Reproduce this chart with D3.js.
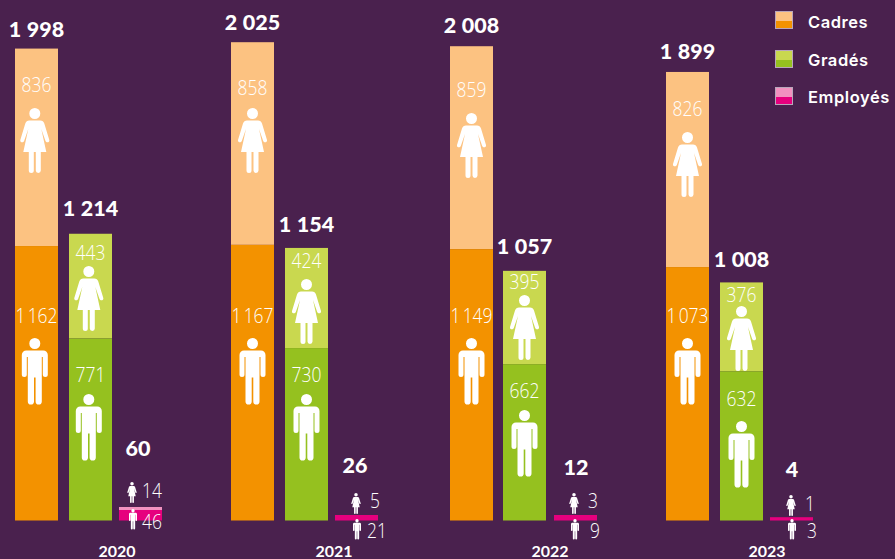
<!DOCTYPE html>
<html><head><meta charset="utf-8">
<script src="https://cdn.jsdelivr.net/npm/d3@7"></script>
<style>html,body{margin:0;padding:0;background:#4a214e;overflow:hidden}svg{display:block}</style>
</head><body><svg id="c" width="895" height="559"></svg>
<script>
const years = ["2020","2021","2022","2023"];
const cadresFemmes = [836,858,859,826];
const cadresHommes = [1162,1167,1149,1073];
const gradesFemmes = [443,424,395,376];
const gradesHommes = [771,730,662,632];
const employesFemmes = [14,5,3,1];
const employesHommes = [46,21,9,3];
const legendLabels = ["Cadres","Gradés","Employés"];

const colors = {
  Cadres:["#fcc281","#f39200"],
  "Gradés":["#c9d84f","#95c11f"],
  "Employés":["#f291c0","#e6007e"]
};
// layout tables (pixels), kept apart from the data
const layout = {
  Cadres:{bx:[15,231,450,666], totGap:[12,12,13,13], iconF:[108,108,113,132], iconH:[338,338,338,338], labF:[92,95,97,116], labH:[323,323,323,323]},
  "Gradés":{bx:[69,285,503,720], totGap:[18,16,17,15], iconF:[266,279,295,306], iconH:[394,394,410,421], labF:[259.5,268,289,302], labH:[382,382,398,406]}
};
const pinkLayout = {
  bx:[119,335,554,770], totDx:[19,20,22,22], totY:[456,473,475,477],
  fDx:[13,21,20,21], hDx:[14,22,21,22], fTop:[482,493,493,495], hTop:[509,519,519,519],
  fLabDx:[23,35,34,35], hLabDx:[23,32,36,37], fLabY:[498,508,508,511], hLabY:[529,538,538,538]
};
const yearCx = [117,334,550,767];
const iconShift = [-1.7,0,0,0];
const legendY = [11.5,50.5,87.5];

const svg = d3.select("#c");
const W=43;
const y = d3.scaleLinear().domain([0,2000]).range([520.5,48.1]);
// the smallest bars are drawn with a readable minimum height
const yPink = d3.scaleLinear().domain([0,4,12,26,46,60]).range([520.5,517.2,515,515,510,507]);
const fmt = v => { const s=String(v); return s.length>3 ? s.slice(0,-3)+"\u202f"+s.slice(-3) : s; };

const FEM = "M14.5 0a5.5 5.5 0 1 1 0 11a5.5 5.5 0 1 1 0-11ZM9 12.500H20q3 0 4 3L29 32c.6 2.500-3 3.200-3.800 1L21 21L26 44H20.500V62.500a2.500 2.500 0 0 1-5 0V44H13.500V62.500a2.500 2.500 0 0 1-5 0V44H3L8 21L3.800 33c-.8 2.200-4.400 1.500-3.800-1L5 15.500q1-3 4-3Z";
const MAN = "M13 0a5.500 5.500 0 1 1 0 11a5.500 5.500 0 1 1 0-11ZM4.500 12.500H21.500a4.500 4.500 0 0 1 4.500 4.500V36.500a2.500 2.500 0 0 1-5 0V19H20V63.500a3.100 3.100 0 0 1-6.200 0V39.500H12.200V63.500a3.100 3.100 0 0 1-6.200 0V19H5V36.500a2.500 2.500 0 0 1-5 0V17a4.500 4.500 0 0 1 4.500-4.500Z";
function icon(kind,cx,top,h){
  const w=kind==="f"?14.5:13, full=kind==="f"?65:66.6;
  svg.append("path").attr("d",kind==="f"?FEM:MAN).attr("fill","#fff")
     .attr("transform",`translate(${cx},${top}) scale(${h/full}) translate(${-w},0)`);
}
function txt(s,xx,yy,size,weight,anchor,fam,squeeze){
  const t=svg.append("text").text(s).attr("x",xx).attr("y",yy).attr("font-size",size).attr("font-weight",weight)
    .attr("text-anchor",anchor||"middle").attr("font-family",fam).attr("fill","#fff");
  if(squeeze){ t.attr("textLength",t.node().getComputedTextLength()*squeeze).attr("lengthAdjust","spacingAndGlyphs"); }
  return t;
}
const LIGHT="'Open Sans', sans-serif", BOLD="Lato, sans-serif";
const num=(s,xx,yy,a)=>txt(s,xx,yy,20,300,a||"middle",LIGHT,0.87);
const series=[["Cadres",cadresFemmes,cadresHommes],["Gradés",gradesFemmes,gradesHommes]];
years.forEach((yr,i)=>{
  series.forEach(([name,F,H])=>{
    const L=layout[name], bx=L.bx[i], cx=bx+W/2, f=F[i], h=H[i], tot=f+h;
    svg.append("rect").attr("x",bx).attr("width",W).attr("y",y(tot)).attr("height",y(h)-y(tot)).attr("fill",colors[name][0]);
    svg.append("rect").attr("x",bx).attr("width",W).attr("y",y(h)).attr("height",y(0)-y(h)).attr("fill",colors[name][1]);
    txt(fmt(tot),cx,y(tot)-L.totGap[i],21.500,900,"middle",BOLD);
    num(fmt(f),cx,L.labF[i]); icon("f",cx+iconShift[i],L.iconF[i],65);
    num(fmt(h),cx,L.labH[i]); icon("h",cx+iconShift[i],L.iconH[i],66.6);
  });
  const P=pinkLayout, bx=P.bx[i], f=employesFemmes[i], h=employesHommes[i], tot=f+h;
  const c=colors["Employés"];
  const showLight=f>=10;
  if(showLight) svg.append("rect").attr("x",bx).attr("width",W).attr("y",yPink(tot)).attr("height",yPink(h)-yPink(tot)).attr("fill",c[0]);
  const top=showLight?yPink(h):yPink(tot);
  svg.append("rect").attr("x",bx).attr("width",W).attr("y",top).attr("height",yPink(0)-top).attr("fill",c[1]);
  txt(fmt(tot),bx+P.totDx[i],P.totY[i],21.500,900,"middle",BOLD);
  icon("f",bx+P.fDx[i],P.fTop[i],21);
  num(fmt(f),bx+P.fLabDx[i],P.fLabY[i],"start");
  icon("h",bx+P.hDx[i],P.hTop[i],20.500);
  num(fmt(h),bx+P.hLabDx[i],P.hLabY[i],"start");
  txt(yr,yearCx[i],557,16,700,"middle",BOLD);
});
legendLabels.forEach((l,i)=>{
  const ly=legendY[i], c=colors[l];
  svg.append("rect").attr("x",775.5).attr("y",ly).attr("width",17).attr("height",17).attr("fill",c[0]).attr("stroke","#b9a6bb").attr("stroke-width",1);
  svg.append("rect").attr("x",776).attr("y",ly+9.500).attr("width",16).attr("height",7).attr("fill",c[1]);
  txt(l,808,[28,66,103][i],16.500,600,"start","Inter, sans-serif").attr("letter-spacing",0.55);
});
</script></body></html>
